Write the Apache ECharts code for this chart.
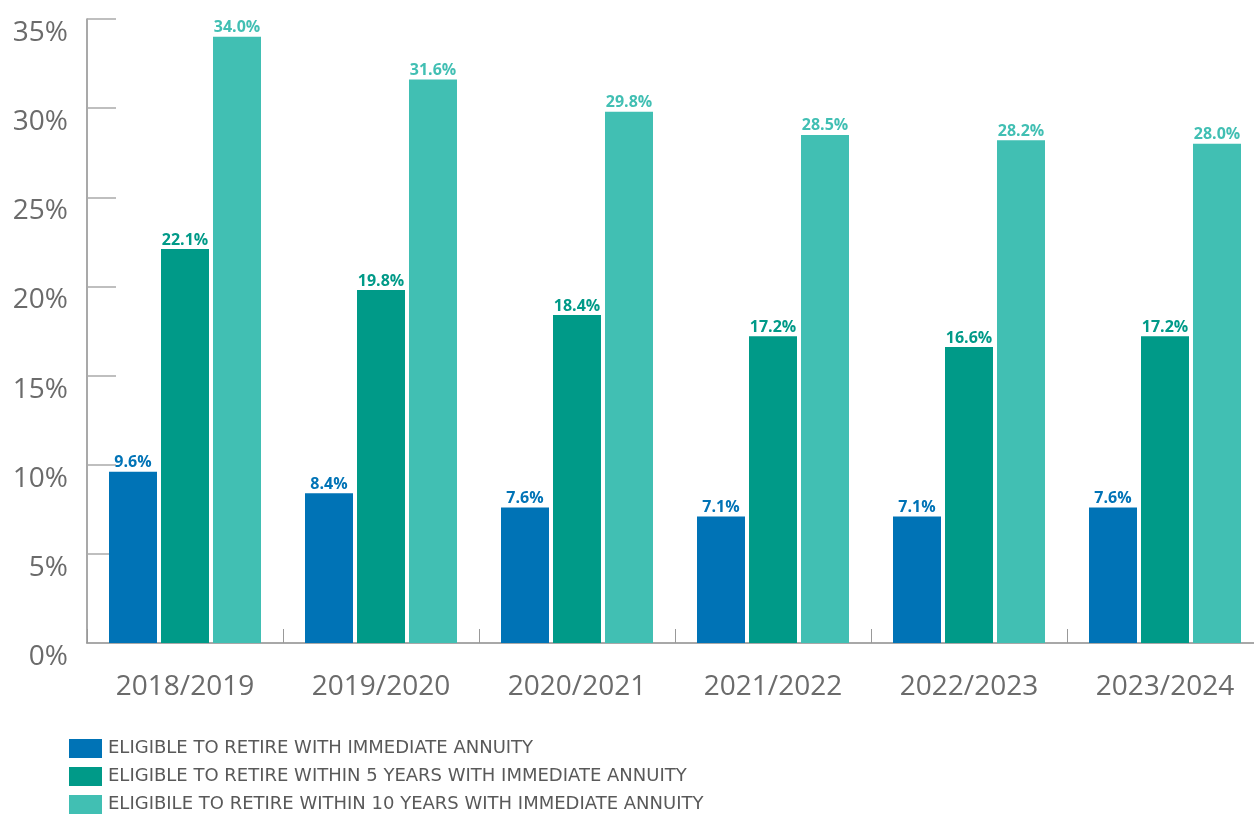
<!DOCTYPE html>
<html>
<head>
<meta charset="utf-8">
<script src="https://cdn.jsdelivr.net/npm/echarts@6/dist/echarts.min.js"></script>
<style>
html,body{margin:0;padding:0;background:#fff;overflow:hidden;}
#chart{width:1263px;height:815px;}
</style>
</head>
<body>
<div id="chart"></div>
<script>
var categories = ['2018/2019','2019/2020','2020/2021','2021/2022','2022/2023','2023/2024'];
var seriesNames = [
  'ELIGIBLE TO RETIRE WITH IMMEDIATE ANNUITY',
  'ELIGIBLE TO RETIRE WITHIN 5 YEARS WITH IMMEDIATE ANNUITY',
  'ELIGIBILE TO RETIRE WITHIN 10 YEARS WITH IMMEDIATE ANNUITY'
];
var immediate = [9.6, 8.4, 7.6, 7.1, 7.1, 7.6];
var within5 = [22.1, 19.8, 18.4, 17.2, 16.6, 17.2];
var within10 = [34.0, 31.6, 29.8, 28.5, 28.2, 28.0];
var colors = ['#0073b6', '#009a88', '#41bfb3'];

var chart = echarts.init(document.getElementById('chart'));
function mk(name, data, color){
  return {
    name: name, type: 'bar', data: data,
    barWidth: 48, barGap: '8.33%',
    itemStyle: {color: color},
    label: {show: true, position: 'top', distance: 1, color: color,
      fontFamily: 'Open Sans', fontWeight: 'bold', fontSize: 16,
      formatter: function(p){ return p.value.toFixed(1) + '%'; }}
  };
}
chart.setOption({
  animation: false,
  color: colors,
  grid: {left: 87, right: 0, top: 19, bottom: 172, containLabel: false},
  legend: {
    orient: 'vertical', left: 69, top: 739, padding: 0, height: 76,
    itemWidth: 33, itemHeight: 19, itemGap: 9,
    icon: 'rect',
    textStyle: {fontFamily: 'DejaVu Sans', fontSize: 18, color: '#595959', padding: [0,0,0,1]},
    data: seriesNames
  },
  xAxis: {
    type: 'category', data: categories,
    axisLine: {lineStyle: {color: '#8c8c8c', width: 1.5}},
    axisTick: {show: true, inside: true, length: 14, lineStyle: {color: '#999'}},
    axisLabel: {fontFamily: 'Open Sans', fontSize: 28, color: '#6b6b6b', margin: 30}
  },
  yAxis: {
    type: 'value', min: 0, max: 35, interval: 5,
    axisLine: {show: true, lineStyle: {color: '#8c8c8c', width: 1.5}},
    axisTick: {show: true, inside: true, length: 29, lineStyle: {color: '#aaa', width: 1.5}},
    splitLine: {show: false},
    axisLabel: {fontFamily: 'Open Sans', fontSize: 28, color: '#6b6b6b', margin: 19,
      verticalAlign: 'top', formatter: '{value}%'}
  },
  series: [mk(seriesNames[0], immediate, colors[0]), mk(seriesNames[1], within5, colors[1]), mk(seriesNames[2], within10, colors[2])]
});
</script>
</body>
</html>
